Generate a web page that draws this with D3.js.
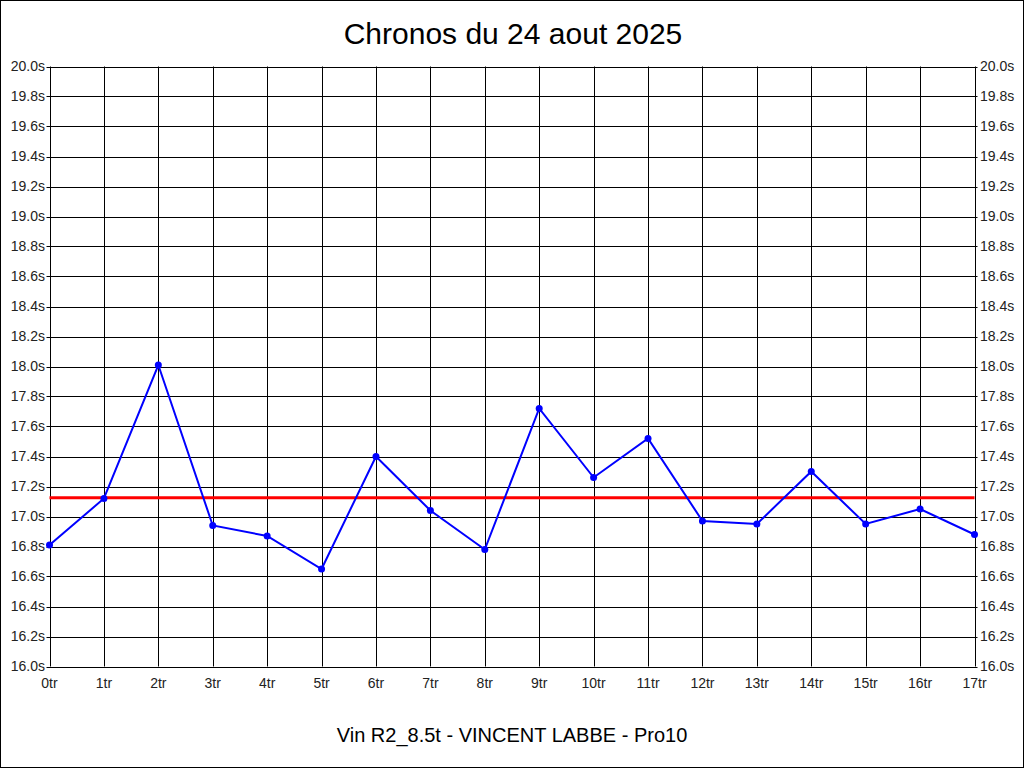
<!DOCTYPE html>
<html><head><meta charset="utf-8">
<script src="https://cdn.jsdelivr.net/npm/d3@7"></script>
<style>html,body{margin:0;padding:0;background:#fff}svg{display:block}</style>
</head><body>
<svg id="c" width="1024" height="768"></svg>
<script>
const categories = ["0tr","1tr","2tr","3tr","4tr","5tr","6tr","7tr","8tr","9tr","10tr","11tr","12tr","13tr","14tr","15tr","16tr","17tr"];
const times = [16.81,17.12,18.01,16.94,16.87,16.65,17.40,17.04,16.78,17.72,17.26,17.52,16.97,16.95,17.30,16.95,17.05,16.88];
const averageTime = 17.125;
const yTicks = [16.0,16.2,16.4,16.6,16.8,17.0,17.2,17.4,17.6,17.8,18.0,18.2,18.4,18.6,18.8,19.0,19.2,19.4,19.6,19.8,20.0];
const title = "Chronos du 24 aout 2025";
const subtitle = "Vin R2_8.5t - VINCENT LABBE - Pro10";

const svg = d3.select("#c");
const font = "'Liberation Sans', Arial, sans-serif";
const L = 49.5, R = 974.5, T = 66.5, B = 666.5;

svg.append("rect").attr("x",0.5).attr("y",0.5).attr("width",1023).attr("height",767)
  .attr("fill","#fff").attr("stroke","#000").attr("stroke-width",1);

const x = d3.scalePoint().domain(categories).range([L, R]);
const y = d3.scaleLinear().domain([16, 20]).range([B, T]);

const g = svg.append("g");
// horizontal grid
g.selectAll("line.h").data(yTicks).join("line")
  .attr("x1", L - 3).attr("x2", R + 3)
  .attr("y1", d => Math.round(y(d)) + 0.5).attr("y2", d => Math.round(y(d)) + 0.5)
  .attr("stroke","#000").attr("stroke-width",1);
// vertical grid
g.selectAll("line.v").data(categories).join("line")
  .attr("x1", d => Math.round(x(d)) + 0.5).attr("x2", d => Math.round(x(d)) + 0.5)
  .attr("y1", T).attr("y2", B)
  .attr("stroke","#000").attr("stroke-width",1);

// y labels left/right
g.selectAll("text.yl").data(yTicks).join("text")
  .attr("x", 45).attr("y", d => y(d)).attr("dy","0.35em")
  .attr("text-anchor","end").attr("font-family",font).attr("font-size",14).attr("fill","#222")
  .text(d => d.toFixed(1) + "s");
g.selectAll("text.yr").data(yTicks).join("text")
  .attr("x", 980).attr("y", d => y(d)).attr("dy","0.35em")
  .attr("text-anchor","start").attr("font-family",font).attr("font-size",14).attr("fill","#222")
  .text(d => d.toFixed(1) + "s");
// x labels
g.selectAll("text.xl").data(categories).join("text")
  .attr("x", d => x(d)).attr("y", 688)
  .attr("text-anchor","middle").attr("font-family",font).attr("font-size",14).attr("fill","#222")
  .text(d => d);

// average line
svg.append("line").attr("x1", L).attr("x2", R)
  .attr("y1", y(averageTime)).attr("y2", y(averageTime))
  .attr("stroke","#ff0000").attr("stroke-width",3);

// series
const line = d3.line().x((d,i) => x(categories[i])).y(d => y(d));
svg.append("path").datum(times).attr("d", line)
  .attr("fill","none").attr("stroke","#0000ff").attr("stroke-width",2);
svg.selectAll("circle.p").data(times).join("circle")
  .attr("cx", (d,i) => x(categories[i])).attr("cy", d => y(d)).attr("r", 3.5)
  .attr("fill","#0000ff");

svg.append("text").attr("x", 513).attr("y", 44).attr("text-anchor","middle")
  .attr("font-family",font).attr("font-size",30).attr("fill","#000").text(title);
svg.append("text").attr("x", 512).attr("y", 742).attr("text-anchor","middle")
  .attr("font-family",font).attr("font-size",20).attr("fill","#000").text(subtitle);
</script>
</body></html>
